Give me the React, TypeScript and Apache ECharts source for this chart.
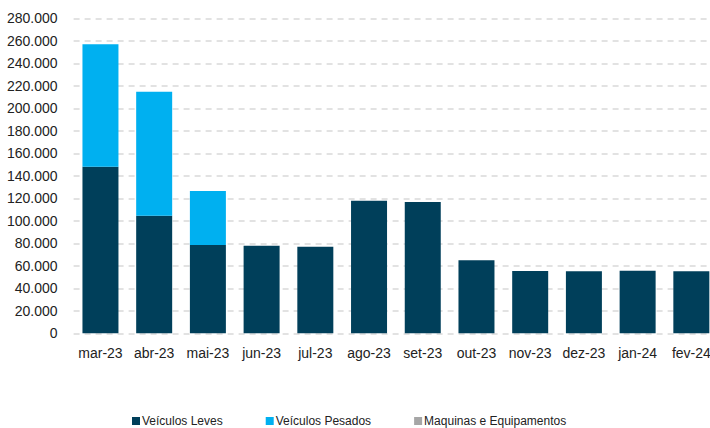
import React, { useEffect, useRef } from "react";
import * as echarts from "echarts";

const categories = ["mar-23", "abr-23", "mai-23", "jun-23", "jul-23", "ago-23", "set-23", "out-23", "nov-23", "dez-23", "jan-24", "fev-24"];
const leves = [148100, 104500, 78500, 77900, 77000, 117900, 116700, 64900, 55400, 55100, 55600, 55100];
const pesados = [108800, 110300, 48000, 0, 0, 0, 0, 0, 0, 0, 0, 0];
const maquinas = [0, 0, 0, 0, 0, 0, 0, 0, 0, 0, 0, 0];
const seriesNames = ["Veículos Leves", "Veículos Pesados", "Maquinas e Equipamentos"];

const fmt = (v: number) => String(v).replace(/\B(?=(\d{3})+(?!\d))/g, ".");

export default function App() {
  const ref = useRef<HTMLDivElement>(null);
  useEffect(() => {
    if (!ref.current) return;
    const chart = echarts.init(ref.current, undefined, { renderer: "svg" });
    const font = "'Liberation Sans', Arial, sans-serif";
    chart.setOption({
      animation: false,
      textStyle: { fontFamily: font },
      grid: { left: 73.6, top: 18.3, width: 644.6, height: 315 },
      legend: {
        left: 127,
        top: 410,
        itemWidth: 8,
        itemHeight: 8,
        itemGap: 43,
        icon: "rect",
        textStyle: { fontSize: 12, color: "#222", fontFamily: font, padding: [0, 0, 0, -3] },
        data: seriesNames,
      },
      xAxis: {
        type: "category",
        data: categories,
        axisLine: { show: false },
        axisTick: { show: false },
        axisLabel: { fontSize: 14, color: "#222", margin: 13, fontFamily: font, interval: 0 },
      },
      yAxis: {
        type: "value",
        min: 0,
        max: 280000,
        interval: 20000,
        axisLine: { show: false },
        axisTick: { show: false },
        axisLabel: { fontSize: 14, color: "#222", margin: 16, fontFamily: font, formatter: (v: number) => fmt(v) },
        splitLine: { lineStyle: { color: "#D9D9D9", type: [6, 5], width: 1.5 } },
      },
      series: [
        { name: seriesNames[0], type: "bar", stack: "t", data: leves, barWidth: 36, itemStyle: { color: "#003F5A" } },
        { name: seriesNames[1], type: "bar", stack: "t", data: pesados, barWidth: 36, itemStyle: { color: "#00B0F0" } },
        { name: seriesNames[2], type: "bar", stack: "t", data: maquinas, barWidth: 36, itemStyle: { color: "#A6A6A6" } },
      ],
    });
    return () => chart.dispose();
  }, []);
  return (
    <div style={{ width: 710, height: 428, position: "absolute", left: 0, top: 0, overflow: "hidden" }}>
      <div ref={ref} style={{ width: 730, height: 428 }} />
    </div>
  );
}
